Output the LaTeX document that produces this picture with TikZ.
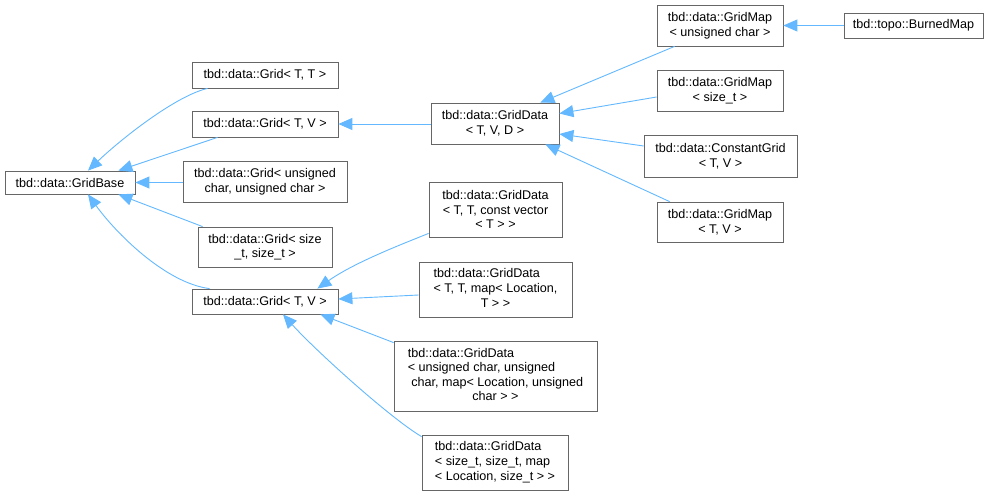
\documentclass[tikz,border=0pt]{standalone}
\usepackage{fontspec}
\setmainfont{Liberation Sans}
\usetikzlibrary{arrows.meta,calc}
\definecolor{edgeblue}{RGB}{99,184,255}
\definecolor{boxgray}{RGB}{102,102,102}
\begin{document}
\begin{tikzpicture}[x=1bp,y=-1bp,
  cls/.style={draw=boxgray,line width=0.8bp,fill=white,inner sep=0pt,align=center,
    font=\fontsize{12.6bp}{14.6bp}\selectfont},
  inh/.style={draw=edgeblue,line width=0.9bp,-{Triangle[length=14bp,width=12bp]}}]
\useasboundingbox (0,0) rectangle (992,496);
% nodes
\node[cls,minimum width=130bp,minimum height=23bp] (base) at (70,182.5) {tbd::data::GridBase};
\node[cls,minimum width=146bp,minimum height=26bp] (gtt) at (265,75) {tbd::data::Grid< T, T >};
\node[cls,minimum width=146bp,minimum height=26bp] (gtv1) at (265,124) {tbd::data::Grid< T, V >};
\node[cls,minimum width=164bp,minimum height=41bp] (guc) at (265,181.5) {tbd::data::Grid< unsigned\\char, unsigned char >};
\node[cls,minimum width=134bp,minimum height=40bp] (gst) at (265,247) {tbd::data::Grid< size\\\_t, size\_t >};
\node[cls,minimum width=146bp,minimum height=25bp] (gtv2) at (265,301.5) {tbd::data::Grid< T, V >};
\node[cls,minimum width=128bp,minimum height=41bp] (gd) at (495,123.5) {tbd::data::GridData\\< T, V, D >};
\node[cls,minimum width=126bp,minimum height=41bp] (gmuc) at (720,25.5) {tbd::data::GridMap\\< unsigned char >};
\node[cls,minimum width=139bp,minimum height=25bp] (burned) at (913.5,25.5) {tbd::topo::BurnedMap};
\node[cls,minimum width=126bp,minimum height=41bp] (gmst) at (720,90.5) {tbd::data::GridMap\\< size\_t >};
\node[cls,minimum width=153bp,minimum height=42bp] (cg) at (720.5,156) {tbd::data::ConstantGrid\\< T, V >};
\node[cls,minimum width=126bp,minimum height=40bp] (gmtv) at (720,222) {tbd::data::GridMap\\< T, V >};
\node[cls,minimum width=133bp,minimum height=55bp] (gdcv) at (495.5,209.5) {tbd::data::GridData\\< T, T, const vector\\< T > >};
\node[cls,minimum width=153bp,minimum height=55bp] (gdmap) at (495.5,289.5) {\begin{tabular}{@{}l@{}}tbd::data::GridData\\< T, T, map< Location,\\\multicolumn{1}{@{}c@{}}{T > >}\end{tabular}};
\node[cls,minimum width=203bp,minimum height=70bp] (gduc) at (495.5,376) {\begin{tabular}{@{}l@{}}tbd::data::GridData\\< unsigned char, unsigned\\\ char, map< Location, unsigned\\\multicolumn{1}{@{}c@{}}{char > >}\end{tabular}};
\node[cls,minimum width=146bp,minimum height=55bp] (gdst) at (495,462.5) {\begin{tabular}{@{}l@{}}tbd::data::GridData\\< size\_t, size\_t, map\\< Location, size\_t > >\end{tabular}};
% edges to GridBase
\draw[inh] ($(gtt.south west)+(16,0)$) .. controls (175,96) and (120,140) .. ($(base.north)+(18,0)$);
\draw[inh] ($(gtv1.south west)+(26,0)$) -- ($(base.north east)+(-17,0)$);
\draw[inh] (guc.west |- base.east) -- (base.east);
\draw[inh] ($(gst.north west)+(5,0)$) -- ($(base.south east)+(-17,0)$);
\draw[inh] ($(gtv2.north west)+(18,0)$) .. controls (165,283) and (115,232) .. ($(base.south)+(18,0)$);
% edges to Grid<T,V> top
\draw[inh] (gd.west |- gtv1.east) -- (gtv1.east);
% edges to GridData<T,V,D>
\draw[inh] ($(gmuc.south west)+(18,0)$) -- ($(gd.north east)+(-19,0)$);
\draw[inh] ($(gmst.west)+(0,6.5)$) -- ($(gd.east)+(0,-10)$);
\draw[inh] ($(cg.west)+(0,-10)$) -- ($(gd.east)+(0,10.5)$);
\draw[inh] ($(gmtv.north west)+(13,0)$) -- ($(gd.south east)+(-14,0)$);
% BurnedMap
\draw[inh] (burned.west) -- (gmuc.east |- burned.west);
% edges to Grid<T,V> bottom
\draw[inh] ($(gdcv.south west)+(0,-4)$) .. controls (405,243) and (355,262) .. ($(gtv2.north east)+(-21,0)$);
\draw[inh] ($(gdmap.west)+(0,5.5)$) -- ($(gtv2.east)+(0,-2.5)$);
\draw[inh] ($(gduc.north west)+(0,2)$) -- ($(gtv2.south east)+(-18,0)$);
\draw[inh] ($(gdst.north west)+(0,2)$) .. controls (390,418) and (315,350) .. ($(gtv2.south)+(18,0)$);
\end{tikzpicture}
\end{document}
